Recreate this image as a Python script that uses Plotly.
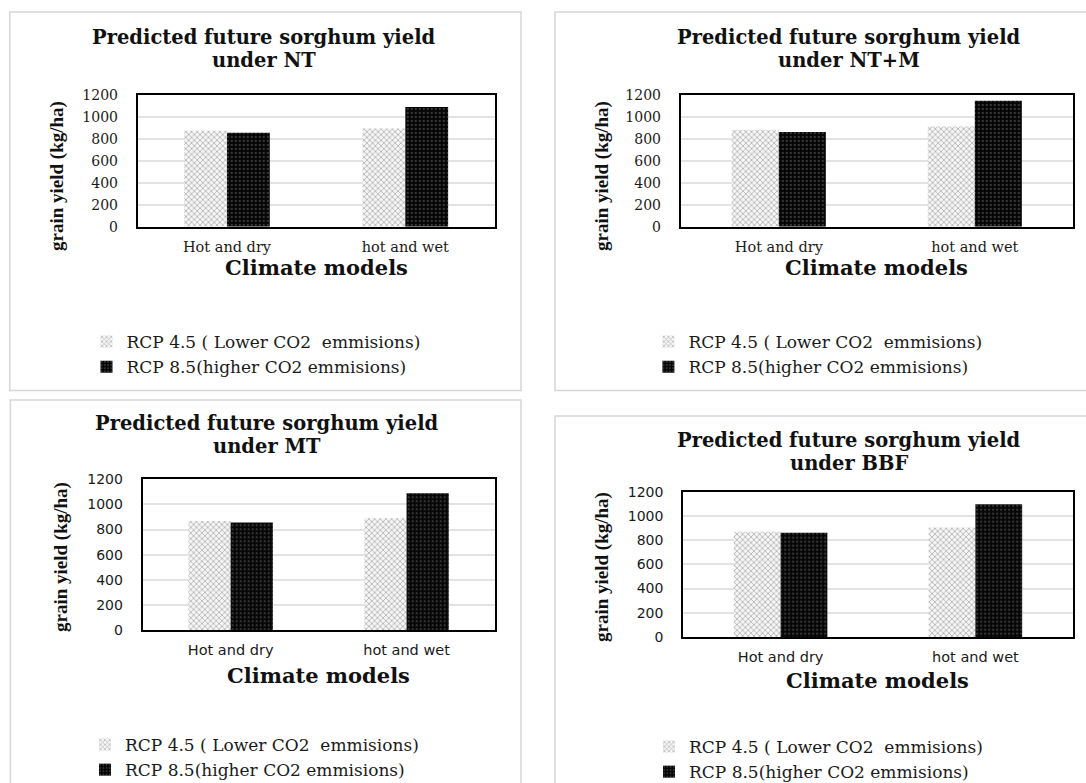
import plotly.graph_objects as go

W, H = 1086, 783

# ---------------- data ----------------
categories = ["Hot and dry", "hot and wet"]
series_names = ["RCP 4.5 ( Lower CO2\u00a0 emmisions)", "RCP 8.5(higher CO2 emmisions)"]
panel_titles = [
    ("Predicted future sorghum yield", "under NT"),
    ("Predicted future sorghum yield", "under NT+M"),
    ("Predicted future sorghum yield", "under MT"),
    ("Predicted future sorghum yield", "under BBF"),
]
nt_rcp45 = [875, 895]
nt_rcp85 = [855, 1090]
ntm_rcp45 = [880, 912]
ntm_rcp85 = [862, 1148]
mt_rcp45 = [868, 889]
mt_rcp85 = [857, 1088]
bbf_rcp45 = [870, 905]
bbf_rcp85 = [861, 1096]
y_tick_values = [0, 200, 400, 600, 800, 1000, 1200]
y_axis_title = "grain yield (kg/ha)"
x_axis_title = "Climate models"

SERIF = "DejaVu Serif"
TIMES = "Liberation Serif"
SANS = "DejaVu Sans"


def fx(x):
    return x / W


def fy(y):
    return 1 - y / H


panels = [
    dict(r45=nt_rcp45, r85=nt_rcp85, plot=(137.8, 494.5, 95, 226.7), border=(9.7, 521, 12, 390.5),
         title_x=264.4, title_y=(37.5, 60.5), ytitle=(57, 176), xtitle=(316, 267),
         legend=(126.5, 324), tickfont=SERIF),
    dict(r45=ntm_rcp45, r85=ntm_rcp85, plot=(680.8, 1072.8, 95, 226.7), border=(555, 1095, 12, 390.5),
         title_x=849.4, title_y=(37.5, 60.5), ytitle=(602, 176), xtitle=(876.3, 267),
         legend=(688.4, 324), tickfont=SERIF),
    dict(r45=mt_rcp45, r85=mt_rcp85, plot=(142.7, 494.5, 479.3, 630), border=(10.4, 521, 400, 795),
         title_x=266.6, title_y=(423.5, 446.5), ytitle=(61, 557), xtitle=(318.6, 675),
         legend=(125, 727), tickfont=SANS),
    dict(r45=bbf_rcp45, r85=bbf_rcp85, plot=(683.2, 1072.8, 491.7, 637), border=(555, 1095, 416, 795),
         title_x=849.4, title_y=(440, 463), ytitle=(602, 567), xtitle=(877.5, 680),
         legend=(689, 729), tickfont=SANS),
]

fig = go.Figure()
layout = dict(
    width=W, height=H,
    margin=dict(l=0, r=0, t=0, b=0, pad=0, autoexpand=False),
    paper_bgcolor="white", plot_bgcolor="white",
    barmode="group", bargap=0.52, bargroupgap=0,
    showlegend=True,
    annotations=[], shapes=[],
)

for i, p in enumerate(panels):
    n = i + 1
    sfx = "" if n == 1 else str(n)
    xa, ya = "x" + sfx, "y" + sfx
    leg = "legend" + sfx
    x0, x1, y0, y1 = p["plot"]

    fig.add_trace(go.Bar(
        x=categories, y=p["r45"], name=series_names[0], xaxis=xa, yaxis=ya, legend=leg,
        legendgroup="a%d" % n,
        marker=dict(color="#eeeeee", line=dict(width=0),
                    pattern=dict(shape="x", fgcolor="#7a7a7a", bgcolor="#f5f5f5", size=4, solidity=0.4)),
        hoverinfo="x+y",
    ))
    fig.add_trace(go.Bar(
        x=categories, y=p["r85"], name=series_names[1], xaxis=xa, yaxis=ya, legend=leg,
        legendgroup="b%d" % n,
        marker=dict(color="#000000", line=dict(width=0),
                    pattern=dict(shape=".", fgcolor="#6a6a6a", bgcolor="#050505", size=4, solidity=0.25)),
        hoverinfo="x+y",
    ))

    tf = p["tickfont"]
    layout["xaxis" + sfx] = dict(
        domain=[fx(x0), fx(x1)], anchor=ya, showline=True, mirror=True, linecolor="#000", linewidth=2,
        showgrid=False, ticks="", tickfont=dict(family=tf, size=14.5, color="#1a1a1a"),
        ticklabelstandoff=6, fixedrange=True,
    )
    layout["yaxis" + sfx] = dict(
        domain=[fy(y1), fy(y0)], anchor=xa, range=[0, 1200], tickvals=y_tick_values,
        showline=True, mirror=True, linecolor="#000", linewidth=2,
        showgrid=True, gridcolor="#e3e3e3", gridwidth=1.5, zeroline=False, ticks="",
        tickfont=dict(family=tf, size=14, color="#1a1a1a"), ticklabelstandoff=15, fixedrange=True,
    )
    lx, ly = p["legend"]
    layout[leg] = dict(
        x=fx(lx - 40), y=fy(ly), xanchor="left", yanchor="top", xref="paper", yref="paper",
        orientation="v", font=dict(family=SERIF, size=17, color="#1a1a1a"),
        bgcolor="rgba(0,0,0,0)", borderwidth=0, tracegroupgap=0, itemclick=False, itemdoubleclick=False,
    )

    bx0, bx1, by0, by1 = p["border"]
    layout["shapes"].append(dict(type="rect", xref="paper", yref="paper",
                                 x0=fx(bx0), x1=fx(bx1), y0=fy(by1), y1=fy(by0),
                                 line=dict(color="#d6d6d6", width=1.5), layer="below"))

    t1, t2 = panel_titles[i]
    for txt, yy in zip((t1, t2), p["title_y"]):
        layout["annotations"].append(dict(
            text="<b>%s</b>" % txt, x=fx(p["title_x"]), y=fy(yy), xref="paper", yref="paper",
            xanchor="center", yanchor="middle", showarrow=False,
            font=dict(family=SERIF, size=19.5, color="#111")))
    layout["annotations"].append(dict(
        text="<b>%s</b>" % y_axis_title, x=fx(p["ytitle"][0]), y=fy(p["ytitle"][1]),
        xref="paper", yref="paper", xanchor="center", yanchor="middle", textangle=-90,
        showarrow=False, font=dict(family=TIMES, size=19, color="#111")))
    layout["annotations"].append(dict(
        text="<b>%s</b>" % x_axis_title, x=fx(p["xtitle"][0]), y=fy(p["xtitle"][1]),
        xref="paper", yref="paper", xanchor="center", yanchor="middle",
        showarrow=False, font=dict(family=SERIF, size=21, color="#111")))

fig.update_layout(**layout)
fig.write_html("out.html", config=dict(displayModeBar=False))
